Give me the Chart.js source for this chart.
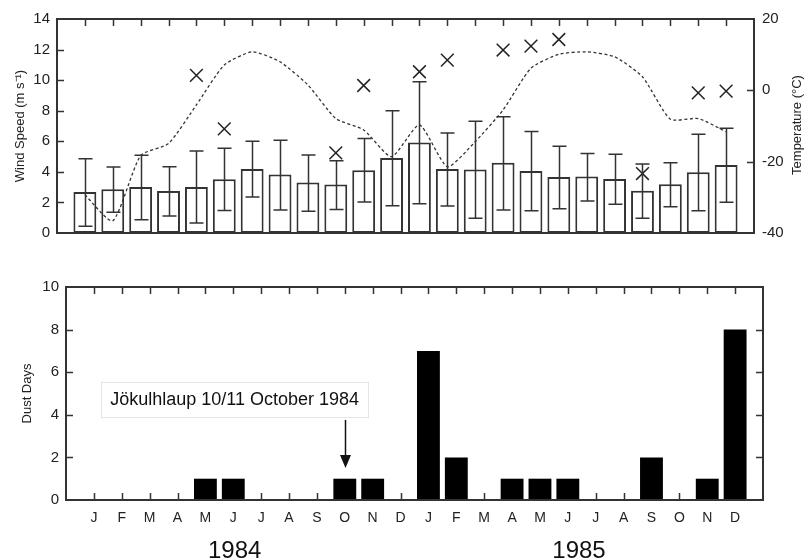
<!DOCTYPE html>
<html>
<head>
<meta charset="utf-8">
<script src="https://cdn.jsdelivr.net/npm/chart.js@4.4.0/dist/chart.umd.min.js"></script>
<style>
  body { margin: 0; background: #fff; }
  #wrap { position: relative; width: 805px; height: 560px; }
  #top { position: absolute; left: 0; top: 0; }
  #bottom { position: absolute; left: 0; top: 250px; }
</style>
</head>
<body>
<div id="wrap">
  <canvas id="top" width="805" height="250"></canvas>
  <canvas id="bottom" width="805" height="310"></canvas>
</div>
<script>
const months = ['J','F','M','A','M','J','J','A','S','O','N','D','J','F','M','A','M','J','J','A','S','O','N','D'];
const years = ['1984', '1985'];

// monthly wind speed (m/s): mean, error bar top and bottom
const windMean = [2.69, 2.86, 3.01, 2.75, 3.01, 3.52, 4.19, 3.82, 3.30, 3.17, 4.10, 4.91,
                  5.92, 4.19, 4.15, 4.59, 4.06, 3.67, 3.69, 3.54, 2.77, 3.19, 3.97, 4.45];
const windHigh = [4.85, 4.32, 5.09, 4.34, 5.37, 5.55, 6.00, 6.07, 5.11, 4.72, 6.18, 7.99,
                  9.89, 6.55, 7.31, 7.60, 6.64, 5.68, 5.20, 5.15, 4.52, 4.59, 6.46, 6.86];
const windLow  = [0.44, 1.35, 0.87, 1.11, 0.66, 1.48, 2.36, 1.51, 1.42, 1.53, 2.03, 1.79,
                  1.92, 1.77, 0.96, 1.51, 1.46, 1.59, 2.10, 1.88, 0.96, 1.72, 1.46, 2.01];
// crosses
const windMax  = [null, null, null, null, 10.31, 6.81, null, null, null, 5.24, 9.65, null,
                  10.55, 11.31, null, 11.97, 12.23, 12.66, null, null, 3.89, null, 9.17, 9.28];
// monthly temperature (°C)
const temperature = [-29.3, -36.6, -18.3, -14.9, -4.1, 7.1, 10.8, 8.0, 1.5, -7.9, -11.1, -18.6,
                     -9.7, -21.4, -14.4, -5.5, 6.2, 10.1, 10.8, 9.4, 3.8, -8.1, -7.9, -11.6];
// dust days per month
const dustDays = [0, 0, 0, 0, 1, 1, 0, 0, 0, 1, 1, 0,
                  7, 2, 0, 1, 1, 1, 0, 0, 2, 0, 1, 8];

const note = 'Jökulhlaup 10/11 October 1984';
const noteMonth = 10;
const tempTitle = 'Temperature (°C)';

const FONT = '"Liberation Sans", Arial, Helvetica, sans-serif';
const INK = '#333';
Chart.defaults.font.family = FONT;
Chart.defaults.color = '#222';

const pts = arr => arr.map((v, i) => ({ x: i + 1, y: v }));

// frame + inward tick marks
const frame = {
  id: 'frame',
  beforeDatasetsDraw(chart, args, opts) {
    const { ctx, chartArea: a, scales } = chart;
    const L = 7;
    ctx.save();
    ctx.strokeStyle = INK;
    ctx.lineWidth = 1.5;
    ctx.beginPath();
    for (let i = 1; i <= months.length; i++) {
      const x = Math.round(scales.x.getPixelForValue(i)) + 0.5;
      if (opts.top) { ctx.moveTo(x, a.top); ctx.lineTo(x, a.top + L); }
      if (opts.bottom) { ctx.moveTo(x, a.bottom); ctx.lineTo(x, a.bottom - L); }
    }
    const side = (id, left) => {
      const s = scales[id];
      s.ticks.forEach(t => {
        if (t.value === s.min || t.value === s.max) return;
        const y = Math.round(s.getPixelForValue(t.value)) + 0.5;
        if (left) { ctx.moveTo(a.left, y); ctx.lineTo(a.left + L, y); }
        else { ctx.moveTo(a.right, y); ctx.lineTo(a.right - L, y); }
      });
    };
    side(opts.left, true);
    side(opts.right, false);
    ctx.stroke();
    ctx.restore();
  },
  afterDatasetsDraw(chart) {
    const { ctx, chartArea: a } = chart;
    ctx.save();
    ctx.strokeStyle = INK;
    ctx.lineWidth = 2;
    ctx.strokeRect(a.left, a.top, a.right - a.left, a.bottom - a.top);
    ctx.restore();
  }
};

const errorBars = {
  id: 'errorBars',
  afterDatasetsDraw(chart) {
    const { ctx, chartArea: a, scales: { x, y } } = chart;
    ctx.save();
    ctx.strokeStyle = INK;
    ctx.lineWidth = 1.5;
    ctx.beginPath();
    windMean.forEach((m, i) => {
      const px = Math.round(x.getPixelForValue(i + 1)) + 0.5;
      const hi = y.getPixelForValue(windHigh[i]);
      const lo = y.getPixelForValue(windLow[i]);
      ctx.moveTo(px, hi); ctx.lineTo(px, lo);
      ctx.moveTo(px - 7, hi); ctx.lineTo(px + 7, hi);
      ctx.moveTo(px - 7, lo); ctx.lineTo(px + 7, lo);
    });
    ctx.stroke();
    // right axis title, reading bottom to top
    ctx.fillStyle = '#222';
    ctx.font = '13px ' + FONT;
    ctx.textAlign = 'center';
    ctx.textBaseline = 'middle';
    ctx.translate(797, (a.top + a.bottom) / 2 - 1);
    ctx.rotate(-Math.PI / 2);
    ctx.fillText(tempTitle, 0, 0);
    ctx.restore();
  }
};

new Chart(document.getElementById('top'), {
  type: 'bar',
  data: {
    datasets: [
      {
        type: 'line',
        data: pts(windMax),
        yAxisID: 'y',
        showLine: false,
        pointStyle: 'crossRot',
        pointRadius: 9,
        borderColor: '#222',
        borderWidth: 1.5,
        order: 0
      },
      {
        type: 'line',
        data: pts(temperature),
        yAxisID: 'y2',
        borderColor: '#333',
        borderWidth: 1.3,
        borderDash: [3, 2.5],
        pointRadius: 0,
        tension: 0.2,
        fill: false,
        order: 1
      },
      {
        data: pts(windMean),
        yAxisID: 'y',
        backgroundColor: '#fff',
        borderColor: INK,
        borderWidth: 2,
        borderSkipped: false,
        categoryPercentage: 1,
        barPercentage: 0.82,
        order: 2
      }
    ]
  },
  options: {
    responsive: false,
    animation: false,
    events: [],
    layout: { padding: { top: 19, bottom: 17, left: 0, right: 0 } },
    plugins: {
      legend: { display: false },
      tooltip: { enabled: false },
      frame: { top: true, bottom: false, left: 'y', right: 'y2' }
    },
    scales: {
      x: {
        type: 'linear', min: 0, max: 25, offset: false, display: false,
        grid: { display: false, offset: false }
      },
      y: {
        position: 'left', min: 0, max: 14,
        afterFit: s => { s.width = 57; },
        grid: { display: false, drawTicks: false },
        border: { display: false },
        ticks: { stepSize: 2, padding: 7, font: { size: 15 }, color: '#222' },
        title: { display: true, text: 'Wind Speed (m s⁻¹)', font: { size: 13 }, padding: { top: 13, bottom: 0 }, color: '#222' }
      },
      y2: {
        position: 'right', min: -40, max: 20,
        afterFit: s => { s.width = 51; },
        grid: { display: false, drawTicks: false },
        border: { display: false },
        ticks: { stepSize: 20, padding: 8, font: { size: 15 }, color: '#222' }
      }
    }
  },
  plugins: [frame, errorBars]
});

const annotate = {
  id: 'annotate',
  afterDraw(chart) {
    const { ctx, scales: { x, y } } = chart;
    ctx.save();
    // note box
    ctx.font = '18px ' + FONT;
    const w = ctx.measureText(note).width;
    const cx = x.getPixelForValue(6.05);
    const cy = y.getPixelForValue(4.72);
    ctx.strokeStyle = '#e2e6ea';
    ctx.lineWidth = 1;
    ctx.strokeRect(Math.round(cx - w / 2 - 9) + 0.5, Math.round(cy - 17) + 0.5, Math.round(w + 18), 35);
    ctx.fillStyle = '#111';
    ctx.textAlign = 'center';
    ctx.textBaseline = 'middle';
    ctx.fillText(note, cx, cy + 1);
    // arrow to October 1984
    const ax = Math.round(x.getPixelForValue(noteMonth)) + 0.5;
    const y0 = y.getPixelForValue(3.76);
    const y1 = y.getPixelForValue(1.5);
    ctx.strokeStyle = '#111';
    ctx.lineWidth = 1.5;
    ctx.beginPath();
    ctx.moveTo(ax, y0); ctx.lineTo(ax, y1 - 8);
    ctx.stroke();
    ctx.fillStyle = '#111';
    ctx.beginPath();
    ctx.moveTo(ax - 5.5, y1 - 13); ctx.lineTo(ax + 5.5, y1 - 13); ctx.lineTo(ax, y1);
    ctx.closePath();
    ctx.fill();
    // year labels
    ctx.font = '24px ' + FONT;
    ctx.fillStyle = '#111';
    [6.05, 18.4].forEach((m, k) => {
      ctx.fillText(years[k], x.getPixelForValue(m), chart.chartArea.bottom + 51);
    });
    ctx.restore();
  }
};

new Chart(document.getElementById('bottom'), {
  type: 'bar',
  data: {
    datasets: [{
      data: pts(dustDays),
      backgroundColor: '#000',
      borderWidth: 0,
      categoryPercentage: 1,
      barPercentage: 0.82
    }]
  },
  options: {
    responsive: false,
    animation: false,
    events: [],
    layout: { padding: { top: 37, right: 42, left: 0, bottom: 0 } },
    plugins: {
      legend: { display: false },
      tooltip: { enabled: false },
      frame: { top: true, bottom: true, left: 'y', right: 'y' }
    },
    scales: {
      x: {
        type: 'linear', min: 0, max: 25, offset: false,
        afterFit: s => { s.height = 60; },
        grid: { display: false, drawTicks: false, offset: false },
        border: { display: false },
        ticks: {
          stepSize: 1, autoSkip: false, maxRotation: 0, padding: 10,
          font: { size: 14 }, color: '#222',
          callback: v => months[v - 1] || ''
        }
      },
      y: {
        min: 0, max: 10,
        afterFit: s => { s.width = 66; },
        grid: { display: false, drawTicks: false },
        border: { display: false },
        ticks: { stepSize: 2, padding: 7, font: { size: 15 }, color: '#222' },
        title: { display: true, text: 'Dust Days', font: { size: 13 }, padding: { top: 20, bottom: 0 }, color: '#222' }
      }
    }
  },
  plugins: [frame, annotate]
});
</script>
</body>
</html>
